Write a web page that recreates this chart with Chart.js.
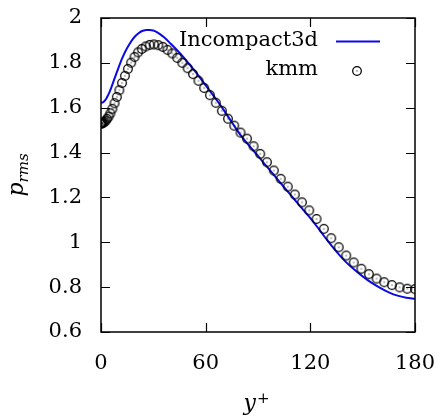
<!DOCTYPE html>
<html>
<head>
<meta charset="utf-8">
<script src="https://cdn.jsdelivr.net/npm/chart.js@4.4.1/dist/chart.umd.min.js"></script>
<style>
  html, body { margin: 0; padding: 0; background: #ffffff; }
  #wrap { width: 441px; height: 418px; position: relative; }
</style>
</head>
<body>
<div id="wrap"><canvas id="c" width="441" height="418"></canvas></div>
<script>
// ---- data ----
const xTicks = [0, 60, 120, 180];
const yTicks = [0.6, 0.8, 1.0, 1.2, 1.4, 1.6, 1.8, 2.0];

const seriesNames = ["Incompact3d", "kmm"];

// Incompact3d (solid blue line)
const yPlusInc = [0, 1, 2, 3, 4, 5, 6, 8, 10, 12, 14, 16, 18, 20, 22, 24, 26, 28, 30, 32, 34, 36, 40, 45, 50, 55,
  60, 65, 70, 75, 80, 85, 90, 95, 100, 105, 110, 115, 120, 125, 130, 135, 140, 145, 150, 155, 160, 165, 170, 175, 180];
const pRmsInc = [1.622, 1.624, 1.630, 1.640, 1.655, 1.672, 1.692, 1.735, 1.778, 1.818, 1.852, 1.880, 1.904, 1.922, 1.935, 1.943, 1.947, 1.947, 1.944, 1.937, 1.927, 1.915, 1.885, 1.845, 1.800, 1.752,
  1.700, 1.648, 1.594, 1.535, 1.478, 1.430, 1.385, 1.338, 1.292, 1.245, 1.199, 1.153, 1.108, 1.058, 1.006, 0.958, 0.915, 0.880, 0.848, 0.820, 0.797, 0.777, 0.762, 0.753, 0.748];

// kmm (open circles with a centre dot)
const yPlusKmm = [0, 0.05, 0.22, 0.49, 0.87, 1.35, 1.95, 2.65, 3.46, 4.37, 5.39, 6.52, 7.75, 9.09, 10.52, 12.06, 13.70,
  15.44, 17.28, 19.22, 21.25, 23.38, 25.60, 27.90, 30.34, 32.84, 35.42, 38.10, 40.86, 43.70, 46.63, 49.64, 52.72,
  55.88, 59.12, 62.43, 65.81, 69.26, 72.77, 76.35, 80.00, 83.70, 87.46, 91.28, 95.15, 99.07, 103.04, 107.06, 111.12,
  115.22, 119.36, 123.54, 127.75, 131.99, 136.26, 140.56, 144.88, 149.23, 153.59, 157.97, 162.36, 166.76, 171.17, 175.58, 180.00];
const pRmsKmm = [1.530, 1.530, 1.530, 1.531, 1.532, 1.534, 1.537, 1.542, 1.550, 1.560, 1.575, 1.595, 1.620, 1.648, 1.678, 1.710, 1.742,
  1.773, 1.801, 1.826, 1.847, 1.862, 1.873, 1.880, 1.882, 1.879, 1.871, 1.858, 1.842, 1.822, 1.800, 1.776, 1.750,
  1.720, 1.688, 1.656, 1.622, 1.586, 1.551, 1.520, 1.489, 1.462, 1.428, 1.394, 1.357, 1.320, 1.283, 1.248, 1.213,
  1.178, 1.142, 1.104, 1.060, 1.018, 0.978, 0.941, 0.910, 0.882, 0.858, 0.838, 0.822, 0.809, 0.799, 0.793, 0.791];

// ---- styling ----
const FONT = "'DejaVu Serif', 'Liberation Serif', serif";
const BLUE = "#0a0ae6";

function makeMarker() {
  const m = document.createElement('canvas');
  m.width = 12; m.height = 12;
  const g = m.getContext('2d');
  g.strokeStyle = '#000';
  g.lineWidth = 1.25;
  g.beginPath(); g.arc(6, 6, 4.3, 0, Math.PI * 2); g.stroke();
  g.fillStyle = '#000';
  g.fillRect(5.5, 5.5, 1, 1);
  return m;
}
const marker = makeMarker();

const incPts = yPlusInc.map((x, i) => ({ x: x, y: pRmsInc[i] }));
const kmmPts = yPlusKmm.map((x, i) => ({ x: x, y: pRmsKmm[i] }));

const framePlugin = {
  id: 'frame',
  afterDraw(chart) {
    const ctx = chart.ctx;
    const a = chart.chartArea;
    const xs = chart.scales.x, ys = chart.scales.y;
    ctx.save();
    ctx.strokeStyle = '#000';
    ctx.lineWidth = 1.5;
    ctx.strokeRect(a.left, a.top, a.right - a.left, a.bottom - a.top);
    ctx.lineWidth = 1.2;
    const L = 9;
    ctx.beginPath();
    xTicks.forEach(v => {
      const px = Math.round(xs.getPixelForValue(v)) + 0.5;
      ctx.moveTo(px, a.bottom); ctx.lineTo(px, a.bottom - L);
      ctx.moveTo(px, a.top); ctx.lineTo(px, a.top + L);
    });
    yTicks.forEach(v => {
      const py = Math.round(ys.getPixelForValue(v)) + 0.5;
      ctx.moveTo(a.left, py); ctx.lineTo(a.left + L, py);
      ctx.moveTo(a.right, py); ctx.lineTo(a.right - L, py);
    });
    ctx.stroke();

    // legend (inside, top right, gnuplot style)
    ctx.fillStyle = '#000';
    ctx.font = '21px ' + FONT;
    ctx.textAlign = 'right';
    ctx.textBaseline = 'middle';
    const tx = a.right - 97;
    const y1 = a.top + 23, y2 = a.top + 52;
    ctx.fillText(chart.data.datasets[1].label, tx, y1);
    ctx.fillText(chart.data.datasets[0].label, tx, y2);
    ctx.strokeStyle = BLUE;
    ctx.lineWidth = 2;
    ctx.beginPath(); ctx.moveTo(a.right - 79, y1 + 0.5); ctx.lineTo(a.right - 35, y1 + 0.5); ctx.stroke();
    ctx.drawImage(marker, a.right - 58 - 6, y2 + 1 - 6);

    // axis titles
    ctx.fillStyle = '#000';
    ctx.textAlign = 'left';
    ctx.textBaseline = 'alphabetic';
    // x title: y^+
    const cx = (a.left + a.right) / 2 - 2;
    ctx.font = 'italic 22px ' + FONT;
    const wy = ctx.measureText('y').width;
    ctx.font = '15px ' + FONT;
    const wp = ctx.measureText('+').width;
    const sx = cx - (wy + wp) / 2;
    ctx.font = 'italic 22px ' + FONT;
    ctx.fillText('y', sx, 410);
    ctx.font = '15px ' + FONT;
    ctx.fillText('+', sx + wy + 1, 403);
    // y title: p_rms
    ctx.save();
    ctx.translate(23, (a.top + a.bottom) / 2);
    ctx.rotate(-Math.PI / 2);
    ctx.font = 'italic 22px ' + FONT;
    const wP = ctx.measureText('p').width;
    ctx.font = 'italic 15px ' + FONT;
    const wR = ctx.measureText('rms').width;
    const s0 = -(wP + wR) / 2;
    ctx.font = 'italic 22px ' + FONT;
    ctx.fillText('p', s0, 0);
    ctx.font = 'italic 15px ' + FONT;
    ctx.fillText('rms', s0 + wP, 5);
    ctx.restore();
    ctx.restore();
  }
};

new Chart(document.getElementById('c'), {
  type: 'scatter',
  data: {
    datasets: [
      {
        label: seriesNames[1],
        data: kmmPts,
        showLine: false,
        pointStyle: marker,
        pointRadius: 4,
        order: 0
      },
      {
        label: seriesNames[0],
        data: incPts,
        showLine: true,
        borderColor: BLUE,
        borderWidth: 2,
        pointRadius: 0,
        cubicInterpolationMode: 'monotone',
        fill: false,
        order: 1
      }
    ]
  },
  options: {
    responsive: false,
    animation: false,
    devicePixelRatio: 1,
    layout: { padding: { top: 18, right: 26, left: 0, bottom: 0 } },
    plugins: { legend: { display: false }, tooltip: { enabled: false } },
    scales: {
      x: {
        type: 'linear',
        min: 0, max: 180,
        afterBuildTicks: s => { s.ticks = xTicks.map(v => ({ value: v })); },
        afterFit: s => { s.height = 86; s.paddingLeft = 0; s.paddingRight = 0; },
        grid: { display: false, drawTicks: false },
        border: { display: false },
        ticks: {
          color: '#000',
          font: { family: FONT, size: 21 },
          padding: 19,
          maxRotation: 0,
          callback: v => String(v)
        }
      },
      y: {
        type: 'linear',
        min: 0.6, max: 2.0,
        afterBuildTicks: s => { s.ticks = yTicks.map(v => ({ value: v })); },
        afterFit: s => { s.width = 101; s.paddingTop = 0; s.paddingBottom = 0; },
        grid: { display: false, drawTicks: false },
        border: { display: false },
        ticks: {
          color: '#000',
          font: { family: FONT, size: 21 },
          padding: 19,
          callback: v => String(+Number(v).toFixed(1))
        }
      }
    }
  },
  plugins: [framePlugin]
});
</script>
</body>
</html>
